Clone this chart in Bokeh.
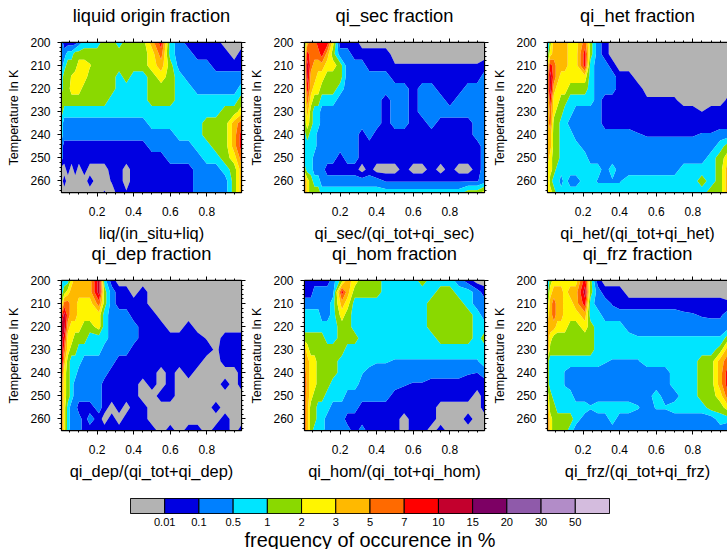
from bokeh.embed import file_html
from bokeh.resources import INLINE
from bokeh.plotting import figure
from bokeh.layouts import column, row
from bokeh.models import Range1d, LinearAxis, FixedTicker, CustomLabelingPolicy
import numpy as np

FONT = "Liberation Sans"
FREQ_LABELS = ["0.01","0.1","0.5","1","2","3","5","7","10","15","20","30","50"]
COLORS = ["#B3B3B3","#0000E1","#0080FF","#00E5FF","#8AD900","#FFF500","#FFB900","#FF6A00",
          "#FF0000","#C3002D","#7D0064","#8F5AAA","#B28CC8","#D4BCDE"]
TEMPS = [200,205,210,215,220,225,230,235,240,245,250,255,260,265]
FRAC_A = [.005,.02,.04,.06,.08,.1,.13,.16,.2,.24,.28,.32,.36,.4,.45,.5,.55,.6,.65,.7,.75,.8,.85,.9,.95,.99]
FRAC_B = [.005,.02,.04,.06,.08,.1,.13,.16,.21,.24,.28,.32,.36,.4,.45,.5,.55,.6,.65,.7,.75,.8,.85,.9,.95,.99]
TITLES = ["liquid origin fraction","qi_sec fraction","qi_het fraction","qi_dep fraction","qi_hom fraction","qi_frz fraction"]
XLABELS = ["liq/(in_situ+liq)","qi_sec/(qi_tot+qi_sec)","qi_het/(qi_tot+qi_het)","qi_dep/(qi_tot+qi_dep)","qi_hom/(qi_tot+qi_hom)","qi_frz/(qi_tot+qi_frz)"]

LIQ = [
[2,1,1,1,1,2,3,3,3,4,4,3,4,4,4,6,8,3,2,1,1,1,1,0,0,0],
[2,2,3,3,4,4,4,4,4,4,4,4,4,4,4,5,7,3,2,2,1,1,1,1,0,1],
[2,3,4,4,4,5,5,4.6,4,4,4,4,4,4,4,5,6,4,2,2,2,2,1,1,1,1],
[3,4,4,4.6,5,5,5,4,4,4,4,3,4,3,3,4,5,4,3,2,2,2,2,2,2,2],
[3,4,4,5,5,5,4,4,4,4,4,3,3,3,3,4,4,4,3,3,2,2,2,2,2,3],
[4,4,4,4,4,4,4,4,4,4,3,3,3,3,3,4,4,4,3,3,3,3,3,3,3,4],
[4,3,3,3,3,3,3,3,3,3,3,3,3,3,3,3,3,3,3,3,3,3,3,4,4,5],
[3,2,2,2,2,2,2,2,2,2,2,2,2,2,2,3,3,3,3,3,3,4,4,4,6,7],
[3,2,2,2,2,2,2,2,2,2,2,2,2,2,2,2,2,2,3,3,3,4,4,4,6,8],
[2,1,1,1,1,1,1,1,1,1,1,1,1,1,1,2,2,2,2,2,3,3,4,4,6,8],
[2,1,.6,1,1,1,1,1,1,1,1,1,1,1,1,1,1,2,2,2,2,3,3,4,5,7],
[0,0,1,0,1,0,1,0,0,0,1,1,0,1,1,1,1,1,1,1,2,2,2,3,4,6],
[0,1,0,0,0,0,0,1,0,0,.6,1,0,1,1,1,1,1,1,1,2,2,2,2,4,6],
[0,0,0,0,0,0,0,0,0,.6,0,1,.6,1,1,1,1,1,1,1,2,2,2,2,4,6]]
SEC = [
[3,6,7,7,8,8,8,5,1,1,1,0,0,0,0,0,0,0,0,0,0,0,0,0,0,0],
[4,8,7,7,7,8,6,4,2,2,1,1,1,1,1,0,0,0,0,0,0,0,0,0,0,0],
[5,9,7,6,6,6,5,5,4,2,2,2,1,1,1,.6,.6,.6,.6,.6,.6,.6,.6,.6,.6,1],
[4,9,6,6,5,5,4,4,4,2,2,2,2,2,2,1,1,1,1,1,1,1,1,1,1,2],
[4,8,6,5,5,4,4,4,3,2,2,2,2,2,2,2,2,1,2,2,1,1,1,2,2,2],
[4,7,5,4,4,3,3,3,2,2,2,2,2,2,1,2,2,1,2,2,2,1,2,2,2,2],
[4,6,4,3,3,2,2,2,2,2,2,2,2,2,1,2,2,1,2,2,2,2,2,2,2,2],
[4,5,4,3,3,2,2,2,2,2,2,2,2,2,1,2,2,1,1,2,1,1,1,1,2,2],
[3,4,3,3,2,2,2,2,2,2,2,1,2,1,1,1,1,1,1,1,1,1,1,1,2,2],
[3,3,3,3,2,2,2,2,2,2,2,1,1,1,1,1,1,1,1,1,1,1,1,1,1,2],
[3,3,3,2,2,2,2,2,1,2,2,1,1,1,1,1,1,1,1,1,1,1,1,1,1,2],
[4,3,3,2,2,2,1,1,1,1,1,0,1,0,0,0,1,0,0,1,0,1,0,0,1,2],
[7,5,4,3,3,2,2,2,2,2,2,2,2,2,1.4,1.4,1.4,1.4,1.4,1.4,1.4,1.4,1.4,1.4,1.4,2],
[7,5,4,4,4,3,3,3,3,3,3,3,3,3,3,3,3,3,3,3,3,3,3,4,4,5]]
HET = [
[2,4,6,6,6,6,5,5,7,4,2,1,0,0,0,0,0,0,0,0,0,0,0,0,0,0],
[3,5,6,6,6,6,5,5,8,4,2,1,0,0,0,0,0,0,0,0,0,0,0,0,0,0],
[5,8,7,6,6,6,5,5,8,3,2,2,1,0,0,0,0,0,0,0,0,0,0,0,0,0],
[6,9,7,6,5,5,5,5,5,3,2,2,2,1,1,0,0,0,0,0,0,0,0,0,0,0],
[6,9,6,5,5,5,4,4,4,3,2,2,2,1,1,1,0,0,0,0,0,0,0,0,0,0],
[5,8,5,5,4,4,3,3,3,3,2,1,1,1,1,.7,.7,.7,.7,.7,0,0,0,0,0,.7],
[5,7,5,4,4,3,3,2,2,2,2,1,1,1,1,1,1,1,1,1,1,1,.5,1,1,1],
[6,7,4,4,3,3,2,2,2,2,2,1,1,1,1,1,1,1,1,1,1,1,1,1,1,1],
[6,6,4,4,3,3,3,2,2,2,2,2,2,2,2,1.6,1.4,1.4,1.4,1.4,1.4,1.4,1.6,1.6,2,2],
[6,6,4,4,3,3,3,3,2,2,2,2,2,2,2,2,2,2,2,2,2,2,2,2,3,4],
[6,5,4,4,3,3,3,3,3,2,2,2,2,2,2,2,2,2,2,2,2,2,2,3,4,5],
[5,5,4,3,3,3,3,3,3,3,3,2,3,2,2,2,2,2,2,2,3,3,3,3,4,6],
[6,4,3,3,2,3,2,2,3,3,2.4,2.4,2.4,2.4,3,3,3,3,3,3,3,3,4,3,4,6],
[5,5,4,3,3,3,3,3,3,3,3,3,3,3,3,3,3,3,3,3,3,3,3,4,4,6]]
DEP = [
[2,3,3,5,6,6,6,6,9,3,1,0,0,0,0,0,0,0,0,0,0,0,0,0,0,0],
[3,4,5,6,6,6,6,6,9,4,2,1,1,0,1,0,0,0,0,0,0,0,0,0,0,0],
[4,7,7,6,6,5,5,5,7,4,2,1,1,1,1,0,0,0,0,0,0,0,0,0,0,0],
[7,9,7,6,6,5,5,5,5,3,2,2,2,1,1,1,0,0,0,0,0,0,0,0,0,0],
[9,9,6,5,5,5,4,4,5,3,2,2,2,2,1,1,1,0,0,1,0,0,0,0,0,0],
[9,8,5,5,4,4,4,3,3,3,2,2,2,2,1,1,1,1,1,1,1,.4,0,1,1,1],
[9,7,5,4,4,3,3,3,3,2,2,2,2,1,1,1,1,1,1,1,1,1,.3,1,1,1],
[9,6,4,3,3,3,2,2,2,2,2,1,1,1,1,1,1,1,1,1,1,0,0,1,1,1],
[8,5,4,3,3,2,2,2,2,2,1,1,1,1,1,1,0,1,0,1,0,0,0,0,0,1],
[7,5,4,3,2,2,2,2,2,1,1,1,1,1,0,1,0,1,0,0,0,0,0,1,0,1],
[7,5,4,3,2,2,2,2,2,1,1,1,1,1,0,0,1,1,0,0,0,0,0,0,0,0],
[7,5,3,2,2,1,1,1,2,1,0,1,0,1,1,0,0,0,0,0,0,0,1,0,0,0],
[7,5,3,2,2,2,1,2,1,0,1,0,1,1,1,0,0,0,0,0,0,0,0,1,0,0],
[7,5,3,2,2,2,1,1,1,1,1,1,1,1,1,1,0,1,0,1,1,0,1,1,0,1]]
HOM = [
[1,1,1,1,1,1,1,2,4,6,5,4,4,4,3,3,3,3,4,3,3,3,2,1,0,0],
[1,1,1,2,2,2,2,2,8,6,4,4,4,4,3,3,3,3,3,3,4,4,3,3,2,1],
[2,2,2,2,2,2,2,3,6,5,3,3,3,3,3,3,3,3,3,4,4,4,4,3,2,2],
[3,3,3,3,3,2,2,3,5,4,3,3,3,3,3,3,3,3,3,4,4,4,4,4,3,2],
[3,3,3,3,3,3,3,3,4,4,3,3,3,3,3,3,3,3,3,4,4,4,4,4,3,3],
[4,4,4,4,4,4,3,3,4,4,4,3,3,3,3,3,3,3,3,3,4,4,4,4,3,4],
[6,5,4,4,4,4,4,4,4,3,3,3,3,3,3,3,3,3,3,3,3,3,3,3,3,3],
[6,6,5,5,4,4,4,4,3,3,3,3,3,2.6,2.6,2.4,2.4,2.4,2.4,2.4,2.4,2.4,2.4,2.4,2.4,3],
[7,6,5,5,4,4,4,4,3,3,3,2.6,2,2,2,2,2,2,2,2,2,2,2,1.6,1.5,2],
[8,6,5,5,4,4,4,3,3,3,3,2,2,2,2,2,1.6,1.4,1.4,1,1,1,1,1,1,1],
[7,6,5,4,4,4,3,3,3,2,2,2,2,2,2,1,1,1,1,1,1,1,1,1,0,1],
[7,6,4,4,3,3,3,2,2,2,2,1,1,1,1,1,1,1,1,1,0,0,0,0,0,1],
[7,6,4,4,3,3,2,2,2,1,1,1,1,1,1,1,0,1,1,1,0,0,0,1,0,0],
[7,6,4,3,3,3,2,2,2,2,1,2,1,1,1,1,0,1,1,0,1,0,0,0,0,0]]
FRZ = [
[2,4,5,5,5,5,5,5,8,4,1,0,0,0,0,0,0,0,0,0,0,0,0,0,0,0],
[3,5,6,6,6,5,6,6,9,4,2,1,1,1,0,0,0,0,0,0,0,0,0,0,0,0],
[4,6,7,6,6,5,5,6,8,3,2,2,1.4,1,1,1,1,1,1,1,1,1,1,1,1,.7],
[5,6,7,6,6,5,5,5,6,3,3,2,2,2,2,2,2,2,2,2,1.7,1.6,1.4,1.3,1.3,2],
[6,6,6,5,5,5,4,4,5,4,3,3,3,3,2,2,2,2,2,2,2,2,2,2,2,2],
[6,5,4,4,4,4,4,4,4,4,3,3,3,3,3,2.6,2.6,2.6,2.6,2.6,2.6,2.6,2.6,2.6,2.6,4],
[7,4,4,4,4,4,4,4,4,4,3,3,3,3,3,3,3,3,3,3,3,3,3,3,4,6],
[4,3,3,3,3,3,3,3,3,3,3,2.6,2.4,2.4,2.4,2.4,3,3,3,3,3,3,4,4,6,7],
[4,3,3,3,3,2.4,2,2,2,2,2,2,2,2,2,2,2,2,2,3,3,3,4,4,6,8],
[4,3,3,3,3,2.4,2,2,2,2,2,2,2,2,2,2,2,2,2,3,3,3,4,4,6,8],
[5,4,3,3,3,3,3,2,2,2,2,2,2,2,2,2,2,3,2,2,3,3,4,4,5,7],
[6,4,4,3,3,3,3,3,3,2.6,3,3,3,3,3,2.6,2,2.6,2.6,3,3,3,3,4,4,5],
[7,5,4,4,4,4,4,3,2,2,2,2,3,2,2,2,2,2,2,2,2,2,2,2,3,3],
[7,5,4,4,4,4,3,2,2,2,2,2,2,2,2,2,2,2,2,2,2,2,2,2,2,1.5]]

FIELDS = [LIQ, SEC, HET, DEP, HOM, FRZ]
XS = [FRAC_A, FRAC_A, FRAC_B, FRAC_B, FRAC_B, FRAC_B]
LEVELS = [-1, .5, 1.5, 2.5, 3.5, 4.5, 5.5, 6.5, 7.5, 8.5, 9.5, 10.5]

def panel(i, left, right, top, bottom):
    p = figure(frame_width=180, frame_height=150, output_backend="svg", toolbar_location=None,
               x_range=Range1d(.005, .99), y_range=Range1d(265, 200), tools="",
               min_border_left=left, min_border_right=right, min_border_top=top, min_border_bottom=bottom,
               x_axis_location=None, y_axis_location=None)
    p.grid.visible = False
    p.outline_line_color = "black"
    p.outline_line_width = 1.3
    p.background_fill_color = None
    p.border_fill_color = None
    p.contour(XS[i], TEMPS, np.array(FIELDS[i], dtype=float), LEVELS, fill_color=COLORS[:11], line_color=None)
    xt = FixedTicker(ticks=[.2,.4,.6,.8], minor_ticks=[.05,.1,.15,.25,.3,.35,.45,.5,.55,.65,.7,.75,.85,.9,.95])
    yt = FixedTicker(ticks=[200,210,220,230,240,250,260], minor_ticks=[202,204,206,208,212,214,216,218,222,224,226,228,232,234,236,238,242,244,246,248,252,254,256,258,262,264])
    for loc, ticker, labelled in [("below", xt, True), ("above", xt, False), ("left", yt, True), ("right", yt, False)]:
        a = LinearAxis(ticker=ticker)
        a.major_tick_out = 4; a.major_tick_in = 0; a.minor_tick_out = 2; a.minor_tick_in = 0
        a.major_tick_line_color = "black"; a.minor_tick_line_color = "black"; a.axis_line_color = "black"
        a.axis_label_text_font = FONT
        a.axis_label_text_font_style = "normal"
        a.axis_label_text_color = "black"
        if labelled:
            a.major_label_text_font = FONT
            a.major_label_text_font_size = "12px"
            a.major_label_text_color = "black"
            if loc == "below":
                a.axis_label = XLABELS[i]
                a.axis_label_text_font_size = "16.4px"
                a.major_label_standoff = 10
                a.axis_label_standoff = 5
            else:
                a.axis_label = "Temperature In K"
                a.axis_label_text_font_size = "12.5px"
                a.major_label_standoff = 7
                a.axis_label_standoff = 6
        else:
            a.major_label_policy = CustomLabelingPolicy(code="for (const i of [...indices]) { indices.unset(i) } return indices;")
            a.major_label_text_font_size = "0px"
            a.major_label_standoff = 0
            if loc == "above":
                a.axis_label = TITLES[i]
                a.axis_label_text_font_size = "18.3px"
                a.axis_label_standoff = 13
        p.add_layout(a, loc)
    return p

row1 = row(panel(0,61,6,42,51), panel(1,57,6,42,51), panel(2,55,2,42,51), spacing=0)
row2 = row(panel(3,61,6,42,56), panel(4,57,6,42,56), panel(5,55,2,42,56), spacing=0, margin=(-6, 0, 0, 0))

cb = figure(frame_width=479, frame_height=15, output_backend="svg", toolbar_location=None, tools="",
            x_range=Range1d(0, len(COLORS)), y_range=Range1d(0, 1),
            min_border_left=130, min_border_right=118, min_border_top=12, min_border_bottom=37,
            x_axis_location=None, y_axis_location=None)
cb.grid.visible = False
cb.outline_line_color = "black"
cb.background_fill_color = None
cb.border_fill_color = None
edges = list(range(len(COLORS)+1))
cb.quad(left=edges[:-1], right=edges[1:], bottom=0, top=1, fill_color=COLORS, line_color="black", line_width=1)
ax = LinearAxis(ticker=FixedTicker(ticks=edges[1:-1]))
ax.major_label_overrides = {e: t for e, t in zip(edges[1:-1], FREQ_LABELS)}
ax.major_tick_out = 0; ax.major_tick_in = 0; ax.minor_tick_out = 0; ax.minor_tick_in = 0
ax.major_tick_line_color = None; ax.minor_tick_line_color = None; ax.axis_line_color = None
ax.major_label_text_font = FONT; ax.major_label_text_font_size = "11.1px"; ax.major_label_text_color = "black"
ax.major_label_standoff = 4
ax.axis_label = "frequency of occurence in %"
ax.axis_label_text_font = FONT; ax.axis_label_text_font_size = "19.9px"; ax.axis_label_text_font_style = "normal"
ax.axis_label_text_color = "black"; ax.axis_label_standoff = 0
cb.add_layout(ax, "below")

page = column(row1, row2, cb, spacing=0)
open("out.html", "w").write(file_html(page, INLINE))
